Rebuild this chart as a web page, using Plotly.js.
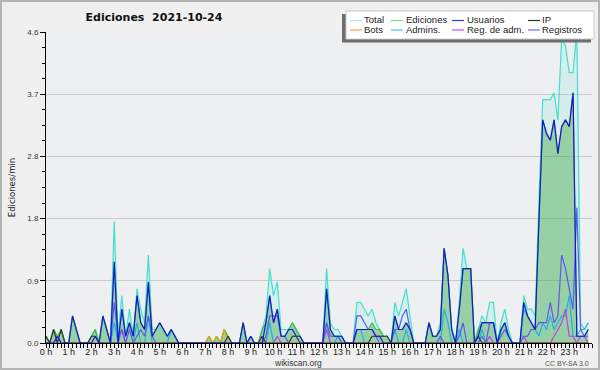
<!DOCTYPE html>
<html>
<head>
<meta charset="utf-8">
<script src="https://cdn.plot.ly/plotly-3.0.1.min.js"></script>
<style>
html,body{margin:0;padding:0;background:#f0f0f0;}
#wrap{position:relative;width:600px;height:370px;}
#chart{width:600px;height:370px;}
#frame{position:absolute;left:0;top:0;width:600px;height:370px;box-sizing:border-box;border:2px solid #b4b4b4;pointer-events:none;}
</style>
</head>
<body>
<div id="wrap"><div id="chart"></div><div id="frame"></div></div>
<script>
// 10-minute slots of 2021-10-24 (144 slots), values in edits per minute
const slotsPerHour = 6;
const hourLabels = ["0 h","1 h","2 h","3 h","4 h","5 h","6 h","7 h","8 h","9 h","10 h","11 h",
  "12 h","13 h","14 h","15 h","16 h","17 h","18 h","19 h","20 h","21 h","22 h","23 h"];
const yTickVals = [0, 0.92, 1.84, 2.76, 3.68, 4.6];
const yTickText = ["0.0", "0.9", "1.8", "2.8", "3.7", "4.6"];

const total = [
  0.1,0,0.2,0.1,0.2,0,   0,0.4,0.2,0,0,0,   0.1,0.2,0,0.4,0.2,0,   1.8,0.1,0.7,0.1,0.5,0.1,
  0.8,0.5,0.3,1.3,0.2,0.2,   0.3,0.2,0.1,0.2,0.1,0,   0,0,0,0,0,0,   0,0.1,0,0.1,0,0.2,
  0.1,0,0,0,0.3,0,   0.1,0,0,0.2,0.4,1.1,   0.7,0.9,0.2,0.2,0.2,0.3,   0.2,0.1,0,0,0,0,
  0,0,1.1,0.3,0.2,0.2,   0.1,0,0,0,0.6,0.6,   0.5,0.4,0.5,0.3,0.2,0.1,   0.1,0,0.6,0.4,0.6,0.8,
  0.4,0,0,0,0,0.3,   0.1,0.1,0.3,1.4,1.0,0.2,   0,0.6,1.4,1.1,1.1,0,   0.2,0.4,0.3,0.6,0.6,0,
  0.3,0.5,0.2,0,0,0,   0.7,0.5,0.5,0.4,2.1,3.6,   3.6,3.6,3.7,3.3,4.5,4.4,   4.0,4.0,4.6,0.3,0.2,0.3
];
const ediciones = [
  0.1,0,0.2,0.1,0.2,0,   0,0.4,0.2,0,0,0,   0.1,0.2,0,0.4,0.2,0,   1.2,0,0.5,0.1,0.3,0.1,
  0.7,0.3,0.2,0.9,0.1,0.2,   0.3,0.2,0.1,0.2,0.1,0,   0,0,0,0,0,0,   0,0.1,0,0.1,0,0.2,
  0.1,0,0,0,0.3,0,   0.1,0,0,0.2,0.3,0.7,   0.3,0.5,0.1,0.1,0.2,0.3,   0.2,0.1,0,0,0,0,
  0,0,0.8,0.2,0.1,0.1,   0.1,0,0,0,0.2,0.2,   0.2,0.2,0.3,0.2,0.2,0.1,   0.1,0,0.4,0.2,0.2,0.3,
  0.2,0,0,0,0,0.3,   0.1,0.1,0.2,1.4,1.0,0.2,   0,0.5,1.1,1.1,1.1,0,   0.2,0.3,0.3,0.3,0.3,0,
  0.2,0.3,0.1,0,0,0,   0.6,0.4,0.3,0.2,1.8,3.3,   3.1,3.0,3.3,2.8,3.2,3.3,   3.2,3.7,0.1,0.1,0.1,0.2
];
const usuarios = [
  0,0,0,0.1,0,0,   0,0.4,0.2,0,0,0,   0,0.1,0,0.4,0.2,0,   1.2,0,0.5,0.1,0.3,0.1,
  0.7,0.3,0.2,0.9,0.1,0.2,   0.3,0.2,0.1,0.2,0.1,0,   0,0,0,0,0,0,   0,0,0,0,0,0,
  0,0,0,0,0.3,0,   0.1,0,0,0,0.3,0.7,   0.3,0.5,0.1,0.1,0.2,0.2,   0.1,0.1,0,0,0,0,
  0,0,0.8,0.2,0.1,0.1,   0.1,0,0,0,0.2,0.2,   0.2,0.2,0.2,0.1,0.1,0,   0,0,0.4,0.2,0.2,0.3,
  0.2,0,0,0,0,0.3,   0.1,0.1,0.2,1.4,1.0,0.2,   0,0.5,1.1,1.1,1.1,0,   0.1,0.3,0.3,0.3,0.3,0,
  0.2,0.3,0.1,0,0,0,   0.6,0.4,0.3,0.2,1.8,3.3,   3.1,3.0,3.3,2.8,3.2,3.3,   3.2,3.7,0.1,0.1,0.1,0.2
];
const ip = [
  0.1,0,0.2,0,0.2,0,   0,0,0,0,0,0,   0.1,0.1,0,0,0,0,   0,0,0,0,0,0,
  0,0,0,0,0,0,   0,0,0,0,0,0,   0,0,0,0,0,0,   0,0,0,0,0,0,
  0.1,0,0,0,0,0,   0,0,0,0.1,0,0,   0,0,0,0,0,0.1,   0.1,0,0,0,0,0,
  0,0,0,0,0,0,   0,0,0,0,0,0,   0,0,0.1,0.1,0.1,0.1,   0.1,0,0,0,0,0,
  0,0,0,0,0,0,   0,0,0,0,0,0,   0,0,0,0,0,0,   0.1,0,0,0,0,0,
  0,0,0,0,0,0,   0,0,0,0,0,0,   0,0,0,0,0,0,   0,0,0,0,0,0
];
const bots = [
  0,0,0,0,0,0,   0,0,0,0,0,0,   0,0,0,0,0,0,   0,0,0,0,0,0,
  0,0,0,0,0,0,   0,0,0,0,0,0,   0,0,0,0,0,0,   0,0.1,0,0.1,0,0.2,
  0,0,0,0,0,0,   0,0,0,0.1,0,0,   0,0,0,0,0,0,   0,0,0,0,0,0,
  0,0,0,0,0,0,   0,0,0,0,0,0,   0,0,0,0,0,0,   0,0,0,0,0,0,
  0,0,0,0,0,0,   0,0,0,0,0,0,   0,0,0,0,0,0,   0,0,0,0,0,0,
  0,0,0,0,0,0,   0,0,0,0,0,0,   0,0,0,0,0,0,   0,0,0,0,0,0
];
const admins = [
  0,0,0,0.1,0,0,   0,0,0,0,0,0,   0,0,0,0,0,0,   0.3,0,0.2,0,0,0,
  0.3,0,0,0.4,0,0,   0,0,0,0.2,0.1,0,   0,0,0,0,0,0,   0,0,0,0,0,0,
  0,0,0,0,0,0,   0,0,0,0,0,0.3,   0,0,0,0,0,0,   0,0,0,0,0,0,
  0,0,0.3,0,0,0.1,   0,0,0,0,0.2,0.2,   0,0,0,0,0,0,   0,0,0.2,0,0,0.2,
  0,0,0,0,0,0,   0,0,0,0.5,0.3,0,   0,0.2,0,0,0,0,   0,0.2,0,0,0,0,
  0,0,0,0,0,0,   0.5,0.4,0.3,0.2,0.1,0.3,   0.2,0.4,0.2,0.3,0.4,0.4,   0.7,0.1,0.1,0.2,0.2,0.3
];
const regAdm = [
  0,0,0,0,0,0,   0,0,0,0,0,0,   0,0,0,0,0,0,   0,0,0.2,0,0,0,
  0,0,0,0,0,0,   0,0,0,0,0,0,   0,0,0,0,0,0,   0,0,0,0,0,0,
  0,0,0,0,0,0,   0,0,0,0,0,0,   0,0.1,0,0,0,0,   0,0,0,0,0,0,
  0,0,0.2,0,0,0,   0,0,0,0,0,0,   0,0,0,0,0,0,   0,0,0,0,0,0,
  0,0,0,0,0,0,   0,0,0,0,0,0,   0,0,0,0,0,0,   0,0,0,0.1,0,0,
  0,0,0,0,0,0,   0.1,0,0,0,0,0,   0,0,0.1,0.2,0.3,0.5,   0.1,0.1,0,0.1,0.1,0
];
const registros = [
  0,0,0,0,0,0,   0,0,0,0,0,0,   0,0,0,0,0,0,   0.6,0.1,0.2,0,0.2,0,
  0.1,0.2,0.1,0.4,0.1,0,   0,0,0,0,0,0,   0,0,0,0,0,0,   0,0,0,0,0,0,
  0,0,0,0,0,0,   0,0,0,0,0.1,0.4,   0.4,0.4,0.1,0.1,0,0,   0,0,0,0,0,0,
  0,0,0.3,0.1,0.1,0.1,   0,0,0,0,0.4,0.4,   0.3,0.2,0.2,0.1,0,0,   0,0,0.2,0.2,0.4,0.5,
  0.2,0,0,0,0,0,   0,0,0.1,0,0,0,   0,0.1,0.3,0,0,0,   0,0.1,0,0.3,0.3,0,
  0.1,0.2,0.1,0,0,0,   0.1,0.1,0.2,0.2,0.3,0.3,   0.3,0.6,0.3,0.4,1.3,1.1,   0.8,0.5,2.0,0.2,0.1,0.1
];

const slots = total.map((_, i) => i / slotsPerHour);

const W = 600, H = 370, ML = 46, MR = 8, MT = 32, MB = 27;
const PW = W - ML - MR, PH = H - MT - MB;
const px = v => (v - ML) / PW;
const py = v => (H - MB - v) / PH;

const series = [
  {name: "Total", y: total, color: "#40e0d0", fill: "rgba(64,224,208,0.13)"},
  {name: "Ediciones", y: ediciones, color: "#46b846", fill: "rgba(50,160,50,0.38)"},
  {name: "Admins.", y: admins, color: "#22b2dc"},
  {name: "Reg. de adm.", y: regAdm, color: "#c040e0"},
  {name: "Registros", y: registros, color: "#5a5af2"},
  {name: "Bots", y: bots, color: "#f0a020"},
  {name: "IP", y: ip, color: "#333333"},
  {name: "Usuarios", y: usuarios, color: "#1616d4"}
];

const traces = series.map(s => ({
  type: "scatter", mode: "lines", name: s.name, x: slots, y: s.y,
  line: {color: s.color, width: 1.2},
  fill: s.fill ? "tozeroy" : "none",
  fillcolor: s.fill || undefined,
  hoverinfo: "skip", showlegend: false
}));

// custom legend (2 rows x 4 columns)
const legendRows = [
  [["Total", "#a6e8e2"], ["Ediciones", "#8cd48c"], ["Usuarios", "#3a3ade"], ["IP", "#333333"]],
  [["Bots", "#f0a040"], ["Admins.", "#4cc4e4"], ["Reg. de adm.", "#d050e4"], ["Registros", "#7070ee"]]
];
const colLine = [350, 391, 452, 528];
const colText = [363, 405, 466, 541];
const rowY = [20, 29.5];

const shapes = [
  {type: "rect", xref: "paper", yref: "paper", layer: "above",
   x0: px(342), x1: px(591), y0: py(14), y1: py(42.5),
   fillcolor: "#6e6e6e", line: {width: 0}},
  {type: "rect", xref: "paper", yref: "paper", layer: "above",
   x0: px(346), x1: px(594), y0: py(11), y1: py(39),
   fillcolor: "#ffffff", line: {color: "#c8c8c8", width: 1}}
];
const annotations = [];
legendRows.forEach((row, r) => {
  row.forEach((item, c) => {
    shapes.push({type: "line", xref: "paper", yref: "paper", layer: "above",
      x0: px(colLine[c]), x1: px(colLine[c] + 12), y0: py(rowY[r] + 0.5), y1: py(rowY[r] + 0.5),
      line: {color: item[1], width: 1.2}});
    annotations.push({xref: "paper", yref: "paper", x: px(colText[c]), y: py(rowY[r]),
      xanchor: "left", yanchor: "middle", showarrow: false, text: item[0], borderpad: 0,
      font: {family: "Liberation Sans, Arial, sans-serif", size: 9.5, color: "#222"}});
  });
});
annotations.push({xref: "paper", yref: "paper", x: px(298), y: py(363.5), xanchor: "center", yanchor: "middle",
  showarrow: false, text: "wikiscan.org", borderpad: 0,
  font: {family: "Liberation Sans, Arial, sans-serif", size: 8.5, color: "#333"}});
annotations.push({xref: "paper", yref: "paper", x: px(590), y: py(363), xanchor: "right", yanchor: "middle",
  showarrow: false, text: "CC BY-SA 3.0", borderpad: 0,
  font: {family: "Liberation Sans, Arial, sans-serif", size: 7, color: "#555"}});

const layout = {
  width: W, height: H,
  margin: {l: ML, r: MR, t: MT, b: MB, pad: 0},
  paper_bgcolor: "#f0f0f0", plot_bgcolor: "#edeff1",
  showlegend: false,
  title: {text: "Ediciones\u00a0\u00a02021-10-24", xref: "container", yref: "container",
    x: 154 / W, xanchor: "center", y: 1 - 17.5 / H, yanchor: "middle",
    font: {family: "DejaVu Sans", size: 11, weight: "bold", color: "#111"}},
  xaxis: {
    range: [0, 24], tickmode: "array", tickvals: hourLabels.map((_, h) => h), ticktext: hourLabels,
    ticks: "outside", ticklen: 4, tickcolor: "#000", tickwidth: 1,
    minor: {dtick: 1 / slotsPerHour, tick0: 0, ticks: "outside", ticklen: 4, tickcolor: "#000", showgrid: false},
    showgrid: false, zeroline: false, showline: true, linecolor: "#000", linewidth: 1,
    tickfont: {family: "Liberation Sans, Arial, sans-serif", size: 9, color: "#222"},
    ticklabelstandoff: -4, fixedrange: true
  },
  yaxis: {
    range: [0, 4.6], tickmode: "array", tickvals: yTickVals, ticktext: yTickText,
    ticks: "outside", ticklen: 5, tickcolor: "#000",
    minor: {dtick: 0.23, tick0: 0, ticks: "outside", ticklen: 3, tickcolor: "#000", showgrid: false},
    showgrid: true, gridcolor: "#cacaca", gridwidth: 1, zeroline: false,
    showline: true, linecolor: "#000", linewidth: 1,
    tickfont: {family: "Liberation Sans, Arial, sans-serif", size: 8, color: "#333"},
    title: {text: "Ediciones/min", standoff: 10, font: {family: "DejaVu Sans", size: 8.5, color: "#222"}},
    automargin: false, fixedrange: true
  },
  shapes: shapes,
  annotations: annotations
};

Plotly.newPlot("chart", traces, layout, {displayModeBar: false, staticPlot: true});
</script>
</body>
</html>
